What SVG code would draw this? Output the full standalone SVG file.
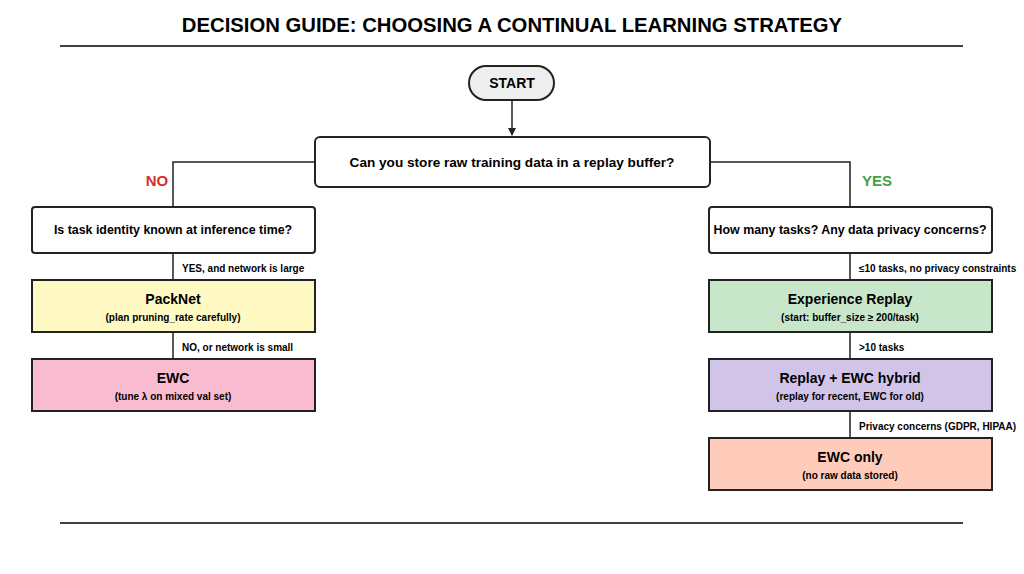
<svg xmlns="http://www.w3.org/2000/svg" width="1024" height="574" viewBox="0 0 1024 574">
<style>
text{font-family:"Liberation Sans",Arial,sans-serif;font-weight:bold;fill:#000;text-anchor:middle}
.b{stroke:#222;stroke-width:2}
.c{fill:none;stroke:#222;stroke-width:1.5}
.t{font-size:14px}
.s{font-size:10px}
.l{font-size:10px;text-anchor:start}
.h{font-size:14px}
</style>
<defs><marker id="a" markerWidth="8" markerHeight="8" refX="7" refY="4" orient="auto" markerUnits="userSpaceOnUse"><path d="M0,0L8,4L0,8z" fill="#222"/></marker></defs>
<rect width="1024" height="574" fill="#fff"/>
<text x="512" y="32" style="font-size:20.3px">DECISION GUIDE: CHOOSING A CONTINUAL LEARNING STRATEGY</text>
<line x1="60" y1="46" x2="963" y2="46" stroke="#000" stroke-width="1.5"/>
<line x1="60" y1="523" x2="963" y2="523" stroke="#000" stroke-width="1.5"/>
<g id="connectors">
<path class="c" d="M512,100V135" marker-end="url(#a)"/>
<path class="c" d="M315,162H173V207"/>
<path class="c" d="M710,162H850V207"/>
<path class="c" d="M173,253V280M173,332V359"/>
<path class="c" d="M850,253V280M850,332V359M850,411V438"/>
<text x="157" y="186" style="font-size:15px;fill:#d32f2f">NO</text>
<text x="877" y="186" style="font-size:15px;fill:#43a047">YES</text>
<text class="l" x="182" y="272">YES, and network is large</text>
<text class="l" x="182" y="351">NO, or network is small</text>
<text class="l" x="859" y="272">≤10 tasks, no privacy constraints</text>
<text class="l" x="859" y="351">&gt;10 tasks</text>
<text class="l" x="859" y="430">Privacy concerns (GDPR, HIPAA)</text>
</g>
<g id="start"><rect class="b" x="469" y="66" width="85" height="34" rx="17" fill="#eee"/><text class="t" x="512" y="88">START</text></g>
<g id="q1"><rect class="b" x="315" y="137" width="395" height="50" rx="5" fill="#fff"/><text x="512" y="167" style="font-size:13.6px">Can you store raw training data in a replay buffer?</text></g>
<g id="q2"><rect class="b" x="32" y="207" width="283" height="46" rx="3" fill="#fff"/><text x="173" y="234" style="font-size:12.4px">Is task identity known at inference time?</text></g>
<g id="q3"><rect class="b" x="709" y="207" width="283" height="46" rx="3" fill="#fff"/><text x="850" y="234" style="font-size:12.4px">How many tasks? Any data privacy concerns?</text></g>
<g id="packnet"><rect class="b" x="32" y="280" width="283" height="52" fill="#fff9c4"/><text class="h" x="173" y="304">PackNet</text><text class="s" x="173" y="321">(plan pruning_rate carefully)</text></g>
<g id="ewc"><rect class="b" x="32" y="359" width="283" height="52" fill="#f8bbd0"/><text class="h" x="173" y="383">EWC</text><text class="s" x="173" y="400">(tune λ on mixed val set)</text></g>
<g id="er"><rect class="b" x="709" y="280" width="283" height="52" fill="#c8e6c9"/><text class="h" x="850" y="304">Experience Replay</text><text class="s" x="850" y="321">(start: buffer_size ≥ 200/task)</text></g>
<g id="hybrid"><rect class="b" x="709" y="359" width="283" height="52" fill="#d1c4e9"/><text class="h" x="850" y="383">Replay + EWC hybrid</text><text class="s" x="850" y="400">(replay for recent, EWC for old)</text></g>
<g id="ewconly"><rect class="b" x="709" y="438" width="283" height="52" fill="#ffccbc"/><text class="h" x="850" y="462">EWC only</text><text class="s" x="850" y="479">(no raw data stored)</text></g>
</svg>
